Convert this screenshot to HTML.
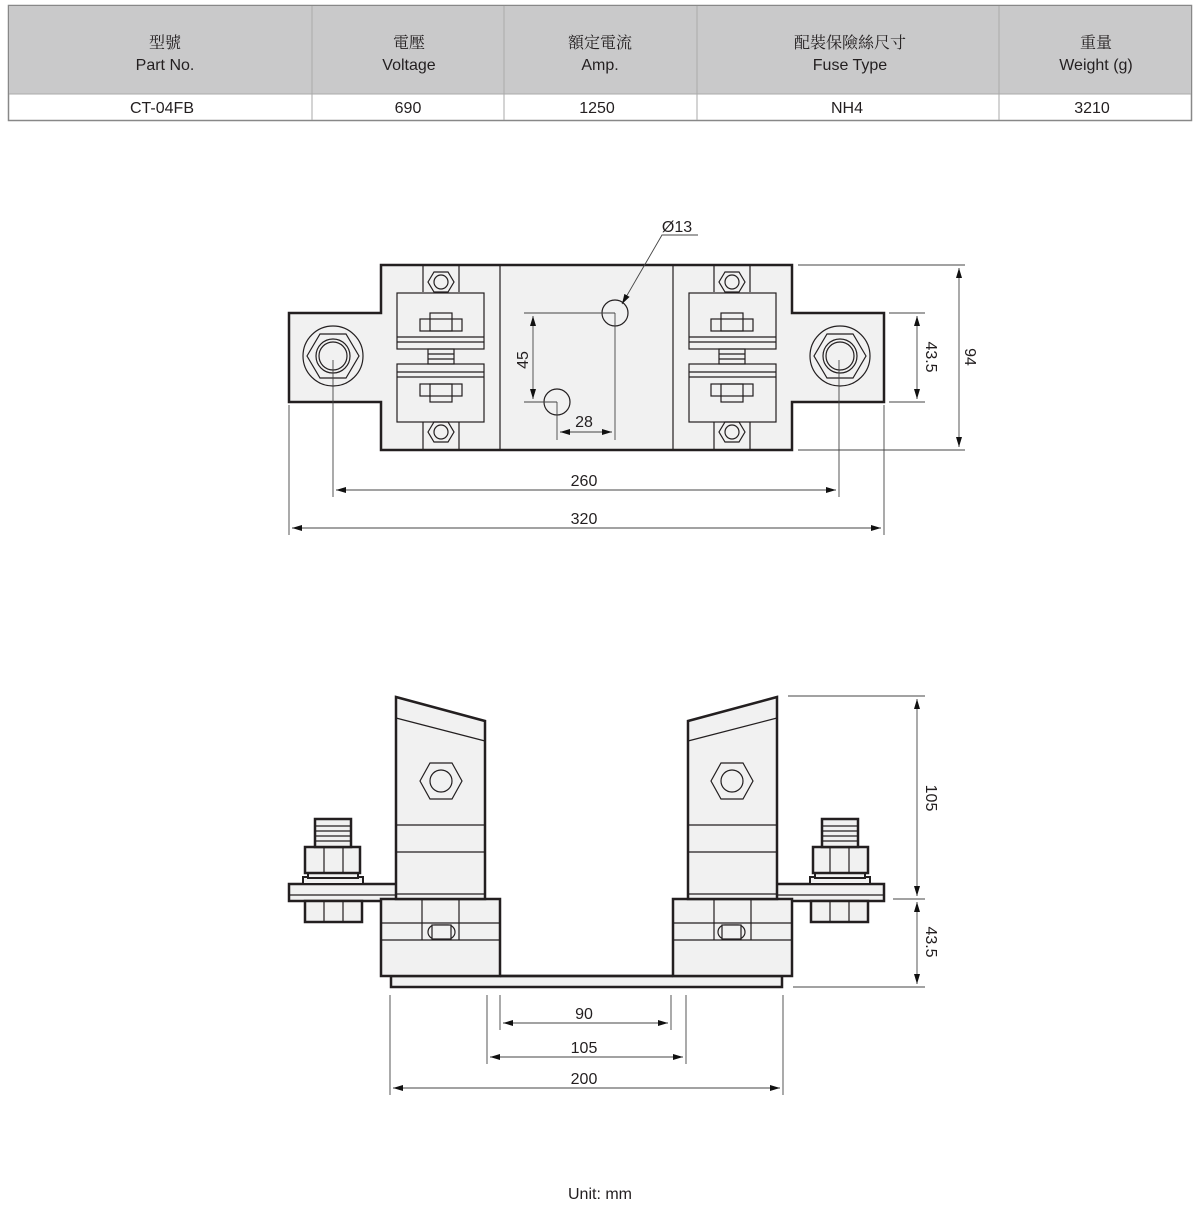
<!DOCTYPE html>
<html><head><meta charset="utf-8"><style>
html,body{margin:0;padding:0;background:#fff;}
svg{display:block;}
text{font-family:"Liberation Sans","Noto Sans CJK TC",sans-serif;fill:#231f20;}
.cjk{font-family:"Noto Serif CJK SC","Noto Sans CJK TC",serif;}
</style></head><body>
<svg width="1200" height="1209" viewBox="0 0 1200 1209" xmlns="http://www.w3.org/2000/svg">
<defs>
<marker id="a" viewBox="0 0 10 6" refX="10" refY="3" markerWidth="10" markerHeight="6" orient="auto-start-reverse" markerUnits="userSpaceOnUse"><path d="M0,0L10,3L0,6z" fill="#111"/></marker>
</defs>
<!-- table -->
<rect x="8.5" y="5.5" width="1183" height="115" fill="#fff" stroke="#888" stroke-width="1.5"/>
<rect x="9" y="6" width="1182" height="88" fill="#c9c9ca"/>
<line x1="9" y1="94" x2="1191" y2="94" stroke="#aaa"/>
<g stroke="#aaa" stroke-width="1"><line x1="312" y1="6" x2="312" y2="120"/><line x1="504" y1="6" x2="504" y2="120"/><line x1="697" y1="6" x2="697" y2="120"/><line x1="999" y1="6" x2="999" y2="120"/></g>
<g font-size="16" text-anchor="middle">
<text class="cjk" x="165" y="48">型號</text><text x="165" y="70">Part No.</text>
<text class="cjk" x="409" y="48">電壓</text><text x="409" y="70">Voltage</text>
<text class="cjk" x="600" y="48">額定電流</text><text x="600" y="70">Amp.</text>
<text class="cjk" x="850" y="48">配裝保險絲尺寸</text><text x="850" y="70">Fuse Type</text>
<text class="cjk" x="1096" y="48">重量</text><text x="1096" y="70">Weight (g)</text>
<text x="162" y="113">CT-04FB</text><text x="408" y="113">690</text><text x="597" y="113">1250</text><text x="847" y="113">NH4</text><text x="1092" y="113">3210</text>
</g>

<!-- TOP VIEW -->
<path d="M381,265 H792 V313 H884 V402 H792 V450 H381 V402 H289 V313 H381 Z" fill="#f1f1f1"/>
<g id="tophalf" stroke="#231f20" fill="none" stroke-width="1.2">
<line x1="500" y1="265" x2="500" y2="450"/>
<line x1="423" y1="265" x2="423" y2="292"/><line x1="459" y1="265" x2="459" y2="292"/>
<line x1="423" y1="422" x2="423" y2="450"/><line x1="459" y1="422" x2="459" y2="450"/>
<polygon points="428,282 434,272 448,272 454,282 448,292 434,292" /><circle cx="441" cy="282" r="7"/>
<polygon points="428,432 434,422 448,422 454,432 448,442 434,442" /><circle cx="441" cy="432" r="7"/>
<rect x="397" y="293" width="87" height="56"/>
<line x1="397" y1="337" x2="484" y2="337"/><line x1="397" y1="342" x2="484" y2="342"/>
<rect x="420" y="319" width="42" height="12"/><rect x="430" y="313" width="22" height="18"/>
<rect x="397" y="364" width="87" height="58"/>
<line x1="397" y1="372" x2="484" y2="372"/><line x1="397" y1="377" x2="484" y2="377"/>
<rect x="420" y="384" width="42" height="12"/><rect x="430" y="384" width="22" height="18"/>
<rect x="428" y="349" width="26" height="15"/>
<line x1="428" y1="354" x2="454" y2="354"/><line x1="428" y1="359" x2="454" y2="359"/>
<circle cx="333" cy="356" r="30"/>
<polygon points="307,356 320,334 346,334 359,356 346,378 320,378"/>
<circle cx="333" cy="356" r="17"/><circle cx="333" cy="356" r="14"/>
</g>
<use href="#tophalf" transform="translate(1173,0) scale(-1,1)"/>
<path d="M381,265 H792 V313 H884 V402 H792 V450 H381 V402 H289 V313 H381 Z" fill="none" stroke="#231f20" stroke-width="2.5"/>
<g stroke="#231f20" fill="none" stroke-width="1.2">
<circle cx="615" cy="313" r="13"/><circle cx="557" cy="402" r="13"/>
</g>
<g stroke="#444" stroke-width="0.9" fill="none">
<line x1="524" y1="313" x2="615" y2="313"/><line x1="524" y1="402" x2="557" y2="402"/>
<line x1="615" y1="313" x2="615" y2="440"/><line x1="557" y1="402" x2="557" y2="440"/>
<line x1="533" y1="316" x2="533" y2="399" marker-start="url(#a)" marker-end="url(#a)"/>
<line x1="560" y1="432" x2="612" y2="432" marker-start="url(#a)" marker-end="url(#a)"/>
<path d="M698,235 H662 L622,304" marker-end="url(#a)"/>
<line x1="289" y1="405" x2="289" y2="535"/><line x1="884" y1="405" x2="884" y2="535"/>
<line x1="333" y1="360" x2="333" y2="497"/><line x1="839" y1="360" x2="839" y2="497"/>
<line x1="292" y1="528" x2="881" y2="528" marker-start="url(#a)" marker-end="url(#a)"/>
<line x1="336" y1="490" x2="836" y2="490" marker-start="url(#a)" marker-end="url(#a)"/>
<line x1="798" y1="265" x2="965" y2="265"/><line x1="798" y1="450" x2="965" y2="450"/>
<line x1="889" y1="313" x2="925" y2="313"/><line x1="889" y1="402" x2="925" y2="402"/>
<line x1="959" y1="268" x2="959" y2="447" marker-start="url(#a)" marker-end="url(#a)"/>
<line x1="917" y1="316" x2="917" y2="399" marker-start="url(#a)" marker-end="url(#a)"/>
</g>
<g font-size="16" text-anchor="middle">
<text x="677" y="232">Ø13</text>
<text x="584" y="427">28</text>
<text x="584" y="486">260</text>
<text x="584" y="524">320</text>
<text transform="translate(528,360) rotate(-90)">45</text>
<text transform="translate(926,357) rotate(90)">43.5</text>
<text transform="translate(965,357) rotate(90)">94</text>
</g>

<!-- SIDE VIEW -->
<rect x="391" y="976" width="391" height="11" fill="#f1f1f1" stroke="#231f20" stroke-width="2.5"/>
<g id="sidehalf" stroke="#231f20" fill="#f1f1f1" stroke-width="1.2">
<rect x="289" y="884" width="108" height="17" stroke-width="2.5"/>
<line x1="289" y1="895" x2="397" y2="895"/>
<rect x="305" y="901" width="57" height="21" stroke-width="2.5"/>
<line x1="324" y1="901" x2="324" y2="922"/><line x1="343" y1="901" x2="343" y2="922"/>
<rect x="303" y="877" width="60" height="7" stroke-width="2"/>
<rect x="308" y="873" width="50" height="5" stroke-width="2"/>
<rect x="305" y="847" width="55" height="26" stroke-width="2.5"/>
<line x1="324" y1="847" x2="324" y2="873"/><line x1="343" y1="847" x2="343" y2="873"/>
<rect x="315" y="819" width="36" height="28" stroke-width="2.5"/>
<line x1="315" y1="826" x2="351" y2="826"/><line x1="315" y1="831" x2="351" y2="831"/><line x1="315" y1="836" x2="351" y2="836"/><line x1="315" y1="841" x2="351" y2="841"/>
<rect x="381" y="899" width="119" height="77" stroke-width="2.5"/>
<line x1="381" y1="923" x2="500" y2="923"/><line x1="381" y1="940" x2="500" y2="940"/>
<line x1="422" y1="899" x2="422" y2="940"/><line x1="459" y1="899" x2="459" y2="940"/>
<rect x="428" y="925" width="27" height="14" rx="7"/>
<rect x="432" y="925" width="19" height="14"/>
<path d="M396,697 L485,721 V899 H396 Z" stroke-width="2.5"/>
<line x1="396" y1="718" x2="485" y2="741"/>
<line x1="396" y1="825" x2="485" y2="825"/><line x1="396" y1="852" x2="485" y2="852"/>
<line x1="396" y1="894" x2="485" y2="894"/>
<polygon points="420,781 430,763 452,763 462,781 452,799 430,799" fill="none"/>
<circle cx="441" cy="781" r="11" fill="none"/>
</g>
<use href="#sidehalf" transform="translate(1173,0) scale(-1,1)"/>
<line x1="500" y1="976" x2="673" y2="976" stroke="#231f20" stroke-width="2.5"/>
<g stroke="#444" stroke-width="0.9" fill="none">
<line x1="788" y1="696" x2="925" y2="696"/><line x1="893" y1="899" x2="925" y2="899"/><line x1="793" y1="987" x2="925" y2="987"/>
<line x1="917" y1="699" x2="917" y2="896" marker-start="url(#a)" marker-end="url(#a)"/>
<line x1="917" y1="902" x2="917" y2="984" marker-start="url(#a)" marker-end="url(#a)"/>
<line x1="390" y1="995" x2="390" y2="1095"/><line x1="783" y1="995" x2="783" y2="1095"/>
<line x1="487" y1="995" x2="487" y2="1064"/><line x1="686" y1="995" x2="686" y2="1064"/>
<line x1="500" y1="995" x2="500" y2="1030"/><line x1="671" y1="995" x2="671" y2="1030"/>
<line x1="503" y1="1023" x2="668" y2="1023" marker-start="url(#a)" marker-end="url(#a)"/>
<line x1="490" y1="1057" x2="683" y2="1057" marker-start="url(#a)" marker-end="url(#a)"/>
<line x1="393" y1="1088" x2="780" y2="1088" marker-start="url(#a)" marker-end="url(#a)"/>
</g>
<g font-size="16" text-anchor="middle">
<text x="584" y="1019">90</text>
<text x="584" y="1053">105</text>
<text x="584" y="1084">200</text>
<text transform="translate(926,798) rotate(90)">105</text>
<text transform="translate(926,942) rotate(90)">43.5</text>
<text x="600" y="1199">Unit: mm</text>
</g>
</svg>
</body></html>
